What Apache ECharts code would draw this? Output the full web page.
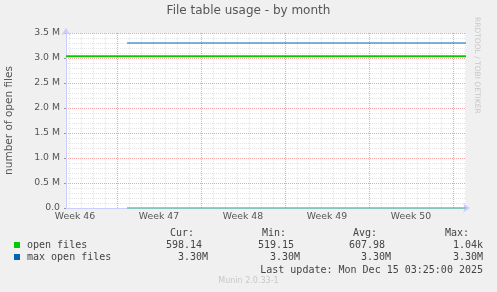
<!DOCTYPE html>
<html>
<head>
<meta charset="utf-8">
<script src="https://cdn.jsdelivr.net/npm/echarts@6/dist/echarts.min.js"></script>
<style>
html,body{margin:0;padding:0;background:#f0f0f0;}
#c{width:497px;height:292px;}
</style>
</head>
<body>
<div id="c"></div>
<script>
// ---- data ----
const title = 'File table usage - by month';
const yAxisTitle = 'number of open files';
const rangeStart = '2025-11-12 18:00';   // left edge of plot
const rangeEnd = '2025-12-16 02:00';     // right edge of plot
const stepHours = 2;
const weekLabels = ['Week 46', 'Week 47', 'Week 48', 'Week 49', 'Week 50'];
const yTickLabels = ['0.0', '0.5 M', '1.0 M', '1.5 M', '2.0 M', '2.5 M', '3.0 M', '3.5 M'];

const openFilesTimes = ['2025-11-17 20:00', '2025-12-16 02:00'];
const openFilesValues = [600, 598];
const maxOpenFilesTimes = ['2025-11-17 20:00', '2025-12-16 02:00'];
const maxOpenFilesValues = [3300000, 3300000];
const warningTimes = ['2025-11-12 18:00', '2025-12-16 02:00'];
const warningValues = [3036000, 3036000];

const legendNames = ['open files', 'max open files'];
const legendColors = ['#00cc00', '#0066b3'];
const colHeaders = ['Cur:', 'Min:', 'Avg:', 'Max:'];
const openFilesStats = ['598.14 ', '519.15 ', '607.98 ', '1.04k'];
const maxOpenFilesStats = ['3.30M', '3.30M', '3.30M', '3.30M'];
const lastUpdate = 'Last update: Mon Dec 15 03:25:00 2025';
const footer = 'Munin 2.0.33-1';
const sideText = 'RRDTOOL / TOBI OETIKER';

// ---- categories (time slots) ----
function parse(s) {
  const [d, t] = s.split(' ');
  const [Y, M, D] = d.split('-').map(Number);
  const [h, m] = t.split(':').map(Number);
  return Date.UTC(Y, M - 1, D, h, m);
}
function fmt(ms) {
  const d = new Date(ms);
  const p = n => String(n).padStart(2, '0');
  return d.getUTCFullYear() + '-' + p(d.getUTCMonth() + 1) + '-' + p(d.getUTCDate()) + ' ' + p(d.getUTCHours()) + ':' + p(d.getUTCMinutes());
}
const cats = [];
for (let t = parse(rangeStart); t <= parse(rangeEnd); t += stepHours * 3600e3) cats.push(fmt(t));
function info(s) { const d = new Date(parse(s)); return { dow: d.getUTCDay(), h: d.getUTCHours() }; }
const isDay = (i, v) => info(v).h === 0 && info(v).dow !== 1;
const isWeek = (i, v) => info(v).h === 0 && info(v).dow === 1;
const isMidWeek = (i, v) => info(v).h === 12 && info(v).dow === 4;
let wk = 0;
const labelMap = {};
cats.forEach((c, i) => { if (isMidWeek(i, c)) labelMap[c] = weekLabels[wk++]; });

const pairs = (ts, vs) => ts.map((t, i) => [t, vs[i]]);

// ---- legend graphic ----
const mono = '"DejaVu Sans Mono", monospace';
const colRight = [208, 300, 391, 483];
const g = [];
g.push({ type: 'text', left: 'center', top: 5, style: { text: title, font: '12px "DejaVu Sans"', fill: '#555' } });
g.push({ type: 'text', x: 481, y: 17, rotation: -Math.PI / 2, style: { text: sideText, font: '7.5px "DejaVu Sans"', fill: '#c8c8c8' } });
colHeaders.forEach((h, i) => g.push({ type: 'text', x: colRight[i] - 14, y: 233, style: { text: h, font: '10px ' + mono, fill: '#444', align: 'right', verticalAlign: 'middle' } }));
[openFilesStats, maxOpenFilesStats].forEach((row, r) => {
  const y = 245.5 + r * 12;
  g.push({ type: 'rect', shape: { x: 14, y: y - 3.5, width: 6, height: 6 }, style: { fill: legendColors[r] } });
  g.push({ type: 'text', x: 27, y: y, style: { text: legendNames[r], font: '10px ' + mono, fill: '#444', verticalAlign: 'middle' } });
  row.forEach((v, i) => {
    const sp = v.endsWith(' ');
    g.push({ type: 'text', x: colRight[i] - (sp ? 6 : 0), y: y, style: { text: v.trim(), font: '10px ' + mono, fill: '#444', align: 'right', verticalAlign: 'middle' } });
  });
});
g.push({ type: 'text', x: 483, y: 270, style: { text: lastUpdate, font: '10px ' + mono, fill: '#444', align: 'right', verticalAlign: 'middle' } });
g.push({ type: 'text', left: 'center', top: 277, style: { text: footer, font: '8px "DejaVu Sans"', fill: '#c8c8c8' } });

const axisColor = '#ccccff';
const labelFont = { fontFamily: 'DejaVu Sans', fontSize: 9.3, color: '#555' };

const chart = echarts.init(document.getElementById('c'), null, { renderer: 'canvas' });
chart.setOption({
  animation: false,
  backgroundColor: '#f0f0f0',
  graphic: g,
  grid: { left: 66, right: 31, top: 33, bottom: 84, show: true, backgroundColor: '#ffffff', borderWidth: 0, containLabel: false, outerBoundsMode: 'none' },
  xAxis: [
    {
      type: 'category', data: cats, boundaryGap: false,
      axisLine: { show: true, lineStyle: { color: axisColor, width: 1 }, symbol: ['none', 'arrow'], symbolSize: [7, 7], symbolOffset: [0, 4] },
      axisTick: { show: false },
      axisLabel: { interval: isMidWeek, formatter: v => labelMap[v] || '', margin: 4, ...labelFont },
      splitLine: { show: true, interval: isDay, lineStyle: { color: '#e4e4e4', type: [1, 1], width: 1 } }
    },
    {
      type: 'category', data: cats, boundaryGap: false, position: 'bottom',
      axisLine: { show: false }, axisTick: { show: false }, axisLabel: { show: false },
      splitLine: { show: true, interval: isWeek, lineStyle: { color: '#f5a3a3', type: [1, 1], width: 1 } }
    }
  ],
  yAxis: {
    type: 'value', min: 0, max: 3500000, interval: 500000,
    name: yAxisTitle, nameLocation: 'middle', nameGap: 51, nameRotate: 90,
    nameTextStyle: { fontFamily: 'DejaVu Sans', fontSize: 10.5, color: '#555' },
    axisLine: { show: true, lineStyle: { color: axisColor, width: 1 }, symbol: ['none', 'arrow'], symbolSize: [7, 7], symbolOffset: [0, 5] },
    axisTick: { show: true, length: 2, lineStyle: { color: '#999' } },
    axisLabel: { formatter: v => yTickLabels[Math.round(v / 500000)], margin: 6, ...labelFont },
    splitLine: { show: true, lineStyle: { color: '#f5a3a3', type: [1, 1], width: 1 } },
    minorTick: { show: false, splitNumber: 5 },
    minorSplitLine: { show: true, lineStyle: { color: '#e4e4e4', type: [1, 1], width: 1 } }
  },
  series: [
    { name: 'warning', type: 'line', data: pairs(warningTimes, warningValues), showSymbol: false, lineStyle: { color: '#00cc00', width: 2 }, z: 3 },
    { name: 'max open files', type: 'line', data: pairs(maxOpenFilesTimes, maxOpenFilesValues), showSymbol: false, lineStyle: { color: '#0066b3', width: 1 }, z: 3 },
    { name: 'open files', type: 'line', data: pairs(openFilesTimes, openFilesValues), showSymbol: false, lineStyle: { color: '#33bb55', width: 1.5, opacity: 0.75 }, z: 4 }
  ]
});
</script>
</body>
</html>
